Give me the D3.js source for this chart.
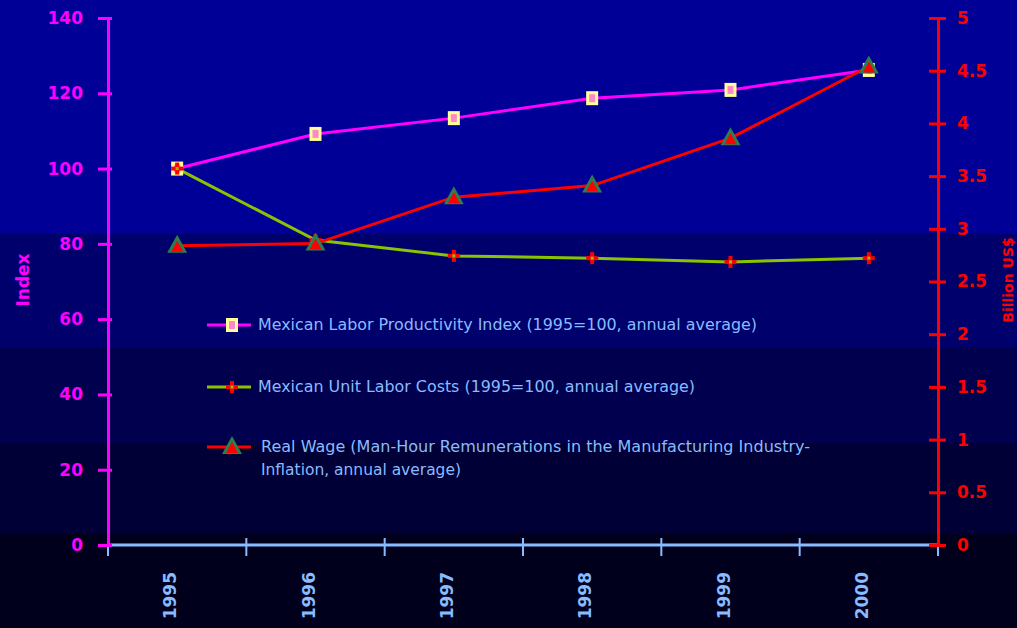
<!DOCTYPE html>
<html>
<head>
<meta charset="utf-8">
<script src="https://cdn.jsdelivr.net/npm/d3@7"></script>
<style>
  html, body { margin: 0; padding: 0; background: #00001e; }
  svg { display: block; }
</style>
</head>
<body>
<svg id="chart" width="1017" height="628"></svg>
<script>
// Mexico: productivity, unit labour cost and real wage, 1995-2000
const years = ["1995", "1996", "1997", "1998", "1999", "2000"];
const productivity = [100, 109.2, 113.4, 118.7, 120.9, 126.2];   // index, left axis
const unitLaborCost = [100, 81, 76.8, 76.2, 75.2, 76.2];          // index, left axis
const realWage = [2.84, 2.86, 3.30, 3.41, 3.86, 4.54];            // right axis
const leftTicks = [0, 20, 40, 60, 80, 100, 120, 140];
const rightTicks = [0, 0.5, 1, 1.5, 2, 2.5, 3, 3.5, 4, 4.5, 5];
const legendLabels = [
  ["Mexican Labor Productivity Index (1995=100, annual average)"],
  ["Mexican Unit Labor Costs (1995=100, annual average)"],
  ["Real Wage (Man-Hour Remunerations in the Manufacturing Industry-", "Inflation, annual average)"]
];

const W = 1017, H = 628;
const plotLeft = 108, plotRight = 938, plotTop = 18, plotBottom = 545;
const svg = d3.select("#chart");

// banded backdrop, lightest at the top
const bands = [
  { y0: 0, y1: 234, c: "#000096" },
  { y0: 234, y1: 348, c: "#00006c" },
  { y0: 348, y1: 443, c: "#00004e" },
  { y0: 443, y1: 534, c: "#000036" },
  { y0: 534, y1: H, c: "#00001c" }
];
svg.selectAll("rect.band").data(bands).join("rect")
  .attr("class", "band")
  .attr("x", 0).attr("width", W)
  .attr("y", d => d.y0).attr("height", d => d.y1 - d.y0)
  .attr("fill", d => d.c);

const x = d3.scaleBand().domain(years).range([plotLeft, plotRight]).padding(0);
const yL = d3.scaleLinear().domain([0, 140]).range([plotBottom, plotTop]);
const yR = d3.scaleLinear().domain([0, 5]).range([plotBottom, plotTop]);
const cx = d => x(d) + x.bandwidth() / 2;

const MAG = "#ff00ff", RED = "#ff0000", GRN = "#88c400", BLUE = "#88bbff";
const tickFont = "'DejaVu Sans', sans-serif";

// x axis: tick marks at band edges, rotated year labels
const xg = svg.append("g");
xg.append("line").attr("x1", plotLeft).attr("x2", plotRight).attr("y1", plotBottom).attr("y2", plotBottom)
  .attr("stroke", BLUE).attr("stroke-width", 3);
const edges = years.map(d => x(d)).concat([plotRight]);
xg.selectAll("line.t").data(edges).join("line").attr("class", "t")
  .attr("x1", d => d).attr("x2", d => d).attr("y1", plotBottom - 7).attr("y2", plotBottom + 11)
  .attr("stroke", BLUE).attr("stroke-width", 2);
xg.selectAll("text").data(years).join("text")
  .attr("transform", d => `translate(${cx(d) - 1},${572}) rotate(-90)`)
  .attr("text-anchor", "end")
  .attr("fill", BLUE).attr("font-family", tickFont).attr("font-weight", "bold")
  .attr("font-size", 17)
  .text(d => d);

// left axis (index)
const la = svg.append("g").attr("transform", `translate(${plotLeft},0)`)
  .call(d3.axisLeft(yL).tickValues(leftTicks).tickSizeInner(10).tickSizeOuter(0).tickPadding(15));
la.select(".domain").attr("stroke", MAG).attr("stroke-width", 3);
la.selectAll(".tick line").attr("stroke", MAG).attr("stroke-width", 3).attr("x1", 4);
la.selectAll(".tick text").attr("fill", MAG).attr("font-family", tickFont)
  .attr("font-weight", "bold").attr("font-size", 17);

// right axis (billion US$)
const ra = svg.append("g").attr("transform", `translate(${plotRight},0)`)
  .call(d3.axisRight(yR).tickValues(rightTicks).tickFormat(d => String(d))
    .tickSizeInner(8).tickSizeOuter(0).tickPadding(11));
ra.select(".domain").attr("stroke", RED).attr("stroke-width", 3);
ra.selectAll(".tick line").attr("stroke", RED).attr("stroke-width", 3).attr("x1", -9);
ra.selectAll(".tick text").attr("fill", RED).attr("font-family", tickFont)
  .attr("font-weight", "bold").attr("font-size", 17);

// axis titles
svg.append("text").attr("transform", "translate(29,280) rotate(-90)")
  .attr("text-anchor", "middle").attr("fill", MAG).attr("font-family", tickFont)
  .attr("font-weight", "bold").attr("font-size", 17).text("Index");
svg.append("text").attr("transform", "translate(1013,280) rotate(-90)")
  .attr("text-anchor", "middle").attr("fill", RED).attr("font-family", tickFont)
  .attr("font-weight", "bold").attr("font-size", 14).text("Billion US$");

// marker shapes
function squareMarker(g) {
  g.append("rect").attr("x", -6).attr("y", -7).attr("width", 12).attr("height", 14).attr("fill", "#ffff99");
  g.append("rect").attr("x", -3).attr("y", -4).attr("width", 6).attr("height", 8).attr("fill", "#ff88cc");
}
function plusMarker(g) {
  g.append("rect").attr("x", -6).attr("y", -2).attr("width", 12).attr("height", 4).attr("fill", RED);
  g.append("rect").attr("x", -2).attr("y", -6).attr("width", 4).attr("height", 12).attr("fill", RED);
  g.append("rect").attr("x", -1.5).attr("y", -1.5).attr("width", 3).attr("height", 3).attr("fill", GRN);
}
function triMarker(g) {
  g.append("path").attr("d", "M0,-11 L10,7 L-10,7 Z").attr("fill", "#2e7d4e");
  g.append("path").attr("d", "M0,-5 L6,6 L-6,6 Z").attr("fill", RED);
}

const series = [
  { vals: productivity, y: yL, color: MAG, marker: squareMarker },
  { vals: unitLaborCost, y: yL, color: GRN, marker: plusMarker },
  { vals: realWage, y: yR, color: RED, marker: triMarker }
];

series.forEach(s => {
  const pts = years.map((yr, i) => [cx(yr), s.y(s.vals[i])]);
  svg.append("path").attr("d", d3.line()(pts))
    .attr("fill", "none").attr("stroke", s.color).attr("stroke-width", 3);
});
series.forEach(s => {
  years.forEach((yr, i) => {
    const g = svg.append("g").attr("transform", `translate(${cx(yr)},${s.y(s.vals[i])})`);
    s.marker(g);
  });
});

// legend
const legendY = [325, 387, 447];
const legendLen = [[499], [437], [549, 200]];
series.forEach((s, i) => {
  const g = svg.append("g").attr("transform", `translate(0,${legendY[i]})`);
  g.append("line").attr("x1", 207).attr("x2", 251).attr("y1", 0).attr("y2", 0)
    .attr("stroke", s.color).attr("stroke-width", 3);
  s.marker(g.append("g").attr("transform", "translate(232,0)"));
  legendLabels[i].forEach((t, j) => {
    g.append("text").attr("x", j === 0 && i < 2 ? 258 : 261).attr("y", j * 23).attr("dy", "0.35em")
      .attr("fill", BLUE).attr("font-family", "'DejaVu Sans', sans-serif").attr("font-size", 15)
      .attr("textLength", legendLen[i][j]).attr("lengthAdjust", "spacingAndGlyphs")
      .text(t);
  });
});
</script>
</body>
</html>
